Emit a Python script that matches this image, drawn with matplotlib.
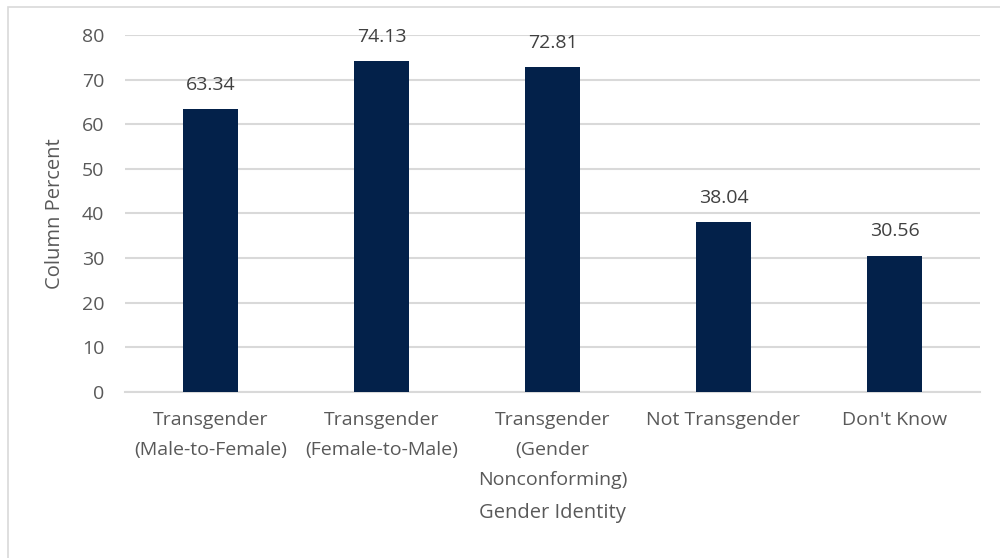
import matplotlib.pyplot as plt
from matplotlib.patches import Rectangle

# Data
categories = [
    "Transgender\n(Male-to-Female)",
    "Transgender\n(Female-to-Male)",
    "Transgender\n(Gender\nNonconforming)",
    "Not Transgender",
    "Don't Know",
]
values = [63.34, 74.13, 72.81, 38.04, 30.56]
yticks = [0, 10, 20, 30, 40, 50, 60, 70, 80]

plt.rcParams["font.family"] = ["Open Sans", "DejaVu Sans"]
text_color = "#595959"
bar_color = "#03214a"
grid_color = "#d9d9d9"

fig = plt.figure(figsize=(10, 5.58), dpi=100)
ax = fig.add_axes([0.125, 0.2975, 0.855, 0.64])

# Chart-area border (top and left visible in the screenshot)
fig.patches.append(Rectangle((0.008, -0.1), 1.1, 1.0875,
                             transform=fig.transFigure, fill=False,
                             edgecolor=grid_color, linewidth=1.2))

x = range(len(categories))
bars = ax.bar(x, values, width=0.32, color=bar_color, zorder=3)

for b, v in zip(bars, values):
    ax.annotate(f"{v:.2f}", (b.get_x() + b.get_width() / 2, v),
                xytext=(0, 11), textcoords="offset points",
                ha="center", va="bottom", fontsize=14, color="#404040")

ax.set_xlim(-0.5, len(categories) - 0.5)
ax.set_ylim(0, 80)
ax.set_yticks(yticks)
ax.set_xticks(list(x))
ax.set_xticklabels(categories, fontsize=14, color=text_color, linespacing=1.85)
ax.tick_params(axis="y", labelsize=14, labelcolor=text_color, length=0, pad=15)
ax.tick_params(axis="x", length=0, pad=14)

ax.grid(axis="y", color=grid_color, linewidth=1.5, zorder=0)
for s in ["top", "right", "left"]:
    ax.spines[s].set_visible(False)
ax.spines["bottom"].set_color(grid_color)
ax.spines["bottom"].set_linewidth(1.5)

ax.set_ylabel("Column Percent", fontsize=14.5, color=text_color, labelpad=12)
ax.set_xlabel("Gender Identity", fontsize=14.5, color=text_color, labelpad=10)

fig.savefig("out.png", dpi=100, facecolor="white")
